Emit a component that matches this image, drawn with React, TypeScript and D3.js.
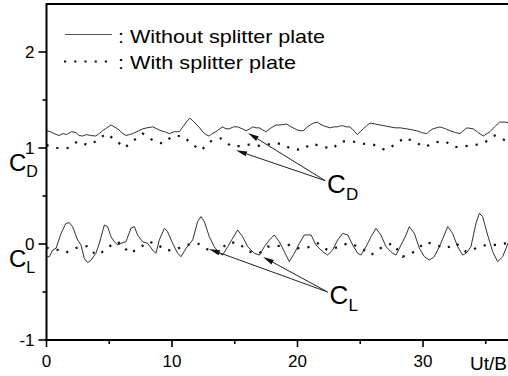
import React from 'react';
import * as d3 from 'd3';

// C_D without splitter plate (solid)
const cdWithout: [number, number][] = [
  [0, 1.18], [0.3, 1.17], [0.6, 1.15], [1.0, 1.13], [1.3, 1.15], [1.6, 1.14], [2.0, 1.17], [2.35, 1.16],
  [2.6, 1.13], [2.88, 1.125], [3.2, 1.14], [3.5, 1.13], [3.94, 1.125], [4.2, 1.15], [4.47, 1.18], [4.8, 1.21],
  [5.14, 1.24], [5.4, 1.22], [5.67, 1.2], [6.0, 1.16], [6.33, 1.13], [6.6, 1.14], [6.87, 1.15], [7.2, 1.17],
  [7.67, 1.2], [8.0, 1.21], [8.46, 1.22], [8.8, 1.2], [9.12, 1.18], [9.4, 1.17], [9.79, 1.15], [10.2, 1.17],
  [10.58, 1.17], [10.98, 1.24], [11.2, 1.28], [11.43, 1.31], [11.7, 1.28], [11.91, 1.25], [12.2, 1.21],
  [12.44, 1.17], [12.7, 1.14], [12.97, 1.125], [13.2, 1.15], [13.5, 1.17], [13.8, 1.2], [14.03, 1.22],
  [14.3, 1.2], [14.57, 1.2], [14.9, 1.22], [15.23, 1.22], [15.6, 1.2], [15.9, 1.18], [16.2, 1.2], [16.43, 1.22],
  [16.7, 1.21], [16.96, 1.21], [17.2, 1.19], [17.49, 1.17], [17.9, 1.21], [18.29, 1.24], [18.6, 1.24],
  [19.14, 1.25], [19.5, 1.22], [19.94, 1.19], [20.2, 1.18], [20.46, 1.18], [20.7, 1.21], [21.0, 1.24],
  [21.3, 1.26], [21.57, 1.27], [21.8, 1.25], [22.1, 1.23], [22.35, 1.22], [22.6, 1.21], [22.9, 1.22],
  [23.16, 1.22], [23.4, 1.23], [23.65, 1.23], [23.9, 1.22], [24.18, 1.22], [24.5, 1.18], [24.76, 1.14],
  [25.0, 1.17], [25.24, 1.2], [25.5, 1.23], [25.78, 1.26], [26.2, 1.25], [26.57, 1.24], [27.0, 1.23],
  [27.37, 1.22], [27.8, 1.21], [28.17, 1.21], [28.7, 1.2], [29.1, 1.19], [29.5, 1.18], [29.9, 1.16],
  [30.3, 1.15], [30.55, 1.18], [30.8, 1.2], [31.35, 1.22], [31.8, 1.2], [32.15, 1.18], [32.6, 1.16],
  [32.95, 1.15], [33.2, 1.18], [33.5, 1.21], [34.0, 1.2], [34.4, 1.16], [34.8, 1.125], [35.1, 1.15],
  [35.34, 1.17], [35.7, 1.22], [36.1, 1.27], [36.5, 1.27], [37, 1.26],
];

// C_D with splitter plate (dotted)
const cdWith: [number, number][] = [
  [0, 1.03], [0.76, 1.0], [1.69, 1.0], [2.49, 1.07], [3.28, 1.03], [3.94, 1.07], [4.74, 1.15], [5.54, 1.08],
  [6.2, 1.0], [6.87, 1.07], [7.67, 1.15], [8.46, 1.08], [9.26, 1.045], [10.06, 1.125], [10.85, 1.125],
  [11.65, 1.035], [12.31, 0.975], [13.1, 1.07], [13.9, 1.1], [14.7, 1.02], [15.5, 1.02], [16.16, 1.035],
  [17.09, 1.02], [17.89, 1.045], [18.69, 1.045], [19.54, 0.99], [20.33, 0.98], [21.13, 1.045], [21.93, 1.02],
  [22.72, 0.99], [23.52, 1.07], [24.32, 1.07], [25.24, 1.045], [26.04, 1.035], [26.97, 0.98], [27.77, 1.035],
  [28.57, 1.11], [29.36, 1.06], [30.16, 1.01], [30.96, 1.06], [31.75, 1.07], [32.55, 1.01], [33.35, 1.02],
  [34.15, 1.03], [34.94, 1.06], [35.74, 1.13], [36.68, 1.07], [37, 1.05],
];

// C_L without splitter plate (solid)
const clWithout: [number, number][] = [
  [0, -0.132], [0.23, -0.132], [0.49, -0.063], [0.76, -0.045], [1.16, 0.111], [1.55, 0.215], [1.82, 0.222],
  [2.08, 0.181], [2.48, 0.042], [2.75, -0.01], [3.01, -0.149], [3.28, -0.194], [3.55, -0.167], [3.94, -0.097],
  [4.21, 0.007], [4.61, 0.198], [4.87, 0.181], [5.14, 0.076], [5.41, 0.024], [5.67, -0.01], [5.94, 0.007],
  [6.33, 0.024], [6.73, 0.163], [7.0, 0.181], [7.26, 0.094], [7.66, 0.024], [8.06, 0.007], [8.46, -0.063],
  [8.72, -0.097], [8.99, 0.042], [9.39, 0.163], [9.65, 0.128], [10.05, 0.007], [10.45, -0.097], [10.72, -0.132],
  [11.12, -0.045], [11.65, 0.042], [12.04, 0.233], [12.31, 0.285], [12.58, 0.233], [12.97, 0.076],
  [13.37, -0.028], [13.77, -0.097], [14.04, -0.115], [14.44, -0.028], [14.83, 0.059], [15.23, 0.146],
  [15.63, 0.076], [16.03, -0.028], [16.56, -0.097], [16.96, -0.115], [17.36, -0.028], [17.76, 0.042],
  [18.15, 0.094], [18.55, 0.024], [18.95, -0.08], [19.35, -0.184], [19.75, -0.097], [20.15, 0.007],
  [20.54, 0.094], [21.08, 0.094], [21.47, -0.01], [22.0, -0.08], [22.4, -0.115], [22.8, -0.063], [23.2, 0.042],
  [23.6, 0.111], [24.0, 0.094], [24.4, -0.01], [24.79, -0.097], [25.06, -0.115], [25.46, -0.028], [25.86, 0.076],
  [26.25, 0.163], [26.65, 0.094], [27.05, -0.028], [27.58, -0.097], [27.85, -0.115], [28.25, -0.01],
  [28.65, 0.094], [28.91, 0.181], [29.31, 0.111], [29.71, -0.045], [30.11, -0.132], [30.5, -0.167],
  [30.9, -0.132], [31.3, -0.028], [31.7, 0.094], [31.97, 0.181], [32.36, 0.111], [32.76, -0.028],
  [33.16, -0.115], [33.43, -0.097], [33.82, -0.028], [34.22, 0.215], [34.49, 0.32], [34.75, 0.285],
  [35.15, 0.094], [35.55, -0.08], [35.95, -0.184], [36.35, -0.132], [36.77, 0.007], [37, 0.06],
];

// C_L with splitter plate (dotted)
const clWith: [number, number][] = [
  [0, -0.04], [0.76, -0.056], [1.55, -0.09], [2.48, -0.035], [3.28, -0.021], [3.94, -0.115], [4.74, -0.063],
  [5.41, 0.021], [5.94, 0.007], [6.6, -0.097], [7.4, -0.045], [8.06, 0.024], [8.72, 0.007], [9.52, -0.07],
  [10.32, -0.056], [11.12, -0.01], [12.04, 0.007], [12.84, -0.056], [13.64, -0.09], [14.44, 0.014],
  [15.23, 0.014], [16.16, -0.08], [16.96, -0.097], [17.62, -0.028], [18.42, -0.021], [19.35, -0.01],
  [20.01, -0.045], [20.81, -0.035], [21.61, 0.007], [22.4, -0.063], [23.33, -0.028], [24.0, 0.007],
  [24.93, -0.028], [25.86, -0.115], [26.79, -0.028], [27.58, 0.007], [28.38, -0.132], [29.18, -0.09],
  [30.24, 0.021], [31.04, -0.01], [31.83, -0.045], [32.63, 0.007], [33.43, -0.08], [34.22, -0.045],
  [35.02, -0.01], [35.82, -0.01], [36.61, 0.007], [37, 0.0],
];

const xMajor = [0, 10, 20, 30];
const xMinor = [5, 15, 25, 35];
const yMajor = [-1, 0, 1, 2];
const yMinor = [-0.5, 0.5, 1.5];

const legendLabels = [': Without splitter plate', ': With splitter plate'];

// annotation arrows, in data units: tips and the point they come from
const cdArrows = { from: [22.2, 0.66], tips: [[16.06, 1.156], [15.1, 0.976]] };
const clArrows = { from: [22.4, -0.5], tips: [[12.95, -0.052], [17.25, -0.135]] };

const W = 508;
const H = 376;
const FONT = "'Liberation Sans', Arial, sans-serif";

function Arrow({ x1, y1, x2, y2 }: { x1: number; y1: number; x2: number; y2: number }) {
  const a = Math.atan2(y2 - y1, x2 - x1);
  const len = 11, half = 2.6;
  const bx = x2 - len * Math.cos(a), by = y2 - len * Math.sin(a);
  const px = -Math.sin(a) * half, py = Math.cos(a) * half;
  return (
    <g>
      <line x1={x1} y1={y1} x2={bx} y2={by} stroke="#222" strokeWidth={1} />
      <path d={`M${x2},${y2}L${bx + px},${by + py}L${bx - px},${by - py}Z`} fill="#111" />
    </g>
  );
}

export default function App() {
  const x = d3.scaleLinear().domain([0, 37]).range([46.5, 46.5 + 12.55 * 37]);
  const y = d3.scaleLinear().domain([-1, 2.5]).range([340, 4]);
  const line = d3.line<[number, number]>().x(d => x(d[0])).y(d => y(d[1]));

  const x0 = x(0);
  const yb = y(-1);

  return (
    <svg width={W} height={H} style={{ position: 'absolute', left: 0, top: 0, background: '#fff' }} fontFamily={FONT}>
      <rect width={W} height={H} fill="#fff" />

      {/* series */}
      <path d={line(cdWithout) ?? ''} fill="none" stroke="#1a1a1a" strokeWidth={0.9} />
      <path d={line(clWithout) ?? ''} fill="none" stroke="#1a1a1a" strokeWidth={0.9} />
      <path d={line(cdWith) ?? ''} fill="none" stroke="#111" strokeWidth={2.2} strokeDasharray="2.2 8" />
      <path d={line(clWith) ?? ''} fill="none" stroke="#111" strokeWidth={2.2} strokeDasharray="2.2 8" />

      {/* frame */}
      <line x1={x0} x2={W} y1={y(2.5)} y2={y(2.5)} stroke="#000" strokeWidth={2} />
      <line x1={x0} x2={x0} y1={y(2.5) - 1} y2={yb + 1} stroke="#000" strokeWidth={2} />
      <line x1={x0 - 1} x2={W} y1={yb} y2={yb} stroke="#000" strokeWidth={2} />

      {/* y ticks */}
      {yMajor.map(v => (
        <g key={'ym' + v}>
          <line x1={x0 - 8} x2={x0} y1={y(v)} y2={y(v)} stroke="#000" strokeWidth={1.6} />
          <text x={x0 - 12} y={y(v) + 6} textAnchor="end" fontSize={17}>{v}</text>
        </g>
      ))}
      {yMinor.map(v => (
        <line key={'yn' + v} x1={x0 - 4} x2={x0} y1={y(v)} y2={y(v)} stroke="#000" strokeWidth={1.6} />
      ))}

      {/* x ticks */}
      {xMajor.map(v => (
        <g key={'xm' + v}>
          <line x1={x(v)} x2={x(v)} y1={yb} y2={yb + 7} stroke="#000" strokeWidth={1.6} />
          <text x={x(v)} y={yb + 27} textAnchor="middle" fontSize={17}>{v}</text>
        </g>
      ))}
      {xMinor.map(v => (
        <line key={'xn' + v} x1={x(v)} x2={x(v)} y1={yb} y2={yb + 4} stroke="#000" strokeWidth={1.6} />
      ))}
      <text x={W - 1} y={yb + 30} textAnchor="end" fontSize={19}>Ut/B</text>

      {/* y axis titles */}
      <text x={9} y={171} fontSize={24}>C<tspan fontSize={16} dy={6}>D</tspan></text>
      <text x={9} y={267} fontSize={24}>C<tspan fontSize={16} dy={6}>L</tspan></text>

      {/* legend */}
      <line x1={65} x2={112} y1={34.5} y2={34.5} stroke="#555" strokeWidth={1.2} />
      <text x={118} y={43} fontSize={19} textLength={207} lengthAdjust="spacingAndGlyphs">{legendLabels[0]}</text>
      <line x1={64} x2={112} y1={61.5} y2={61.5} stroke="#111" strokeWidth={2.2} strokeDasharray="2.2 8" />
      <text x={118} y={69} fontSize={19} textLength={178} lengthAdjust="spacingAndGlyphs">{legendLabels[1]}</text>

      {/* annotations */}
      {cdArrows.tips.map((t, i) => (
        <Arrow key={'cd' + i} x1={x(cdArrows.from[0])} y1={y(cdArrows.from[1])} x2={x(t[0])} y2={y(t[1])} />
      ))}
      <text x={x(cdArrows.from[0]) + 2} y={y(cdArrows.from[1]) + 12} fontSize={26}>C<tspan fontSize={17} dy={7}>D</tspan></text>
      {clArrows.tips.map((t, i) => (
        <Arrow key={'cl' + i} x1={x(clArrows.from[0])} y1={y(clArrows.from[1])} x2={x(t[0])} y2={y(t[1])} />
      ))}
      <text x={x(clArrows.from[0]) + 2} y={y(clArrows.from[1]) + 12} fontSize={26}>C<tspan fontSize={17} dy={7}>L</tspan></text>
    </svg>
  );
}
